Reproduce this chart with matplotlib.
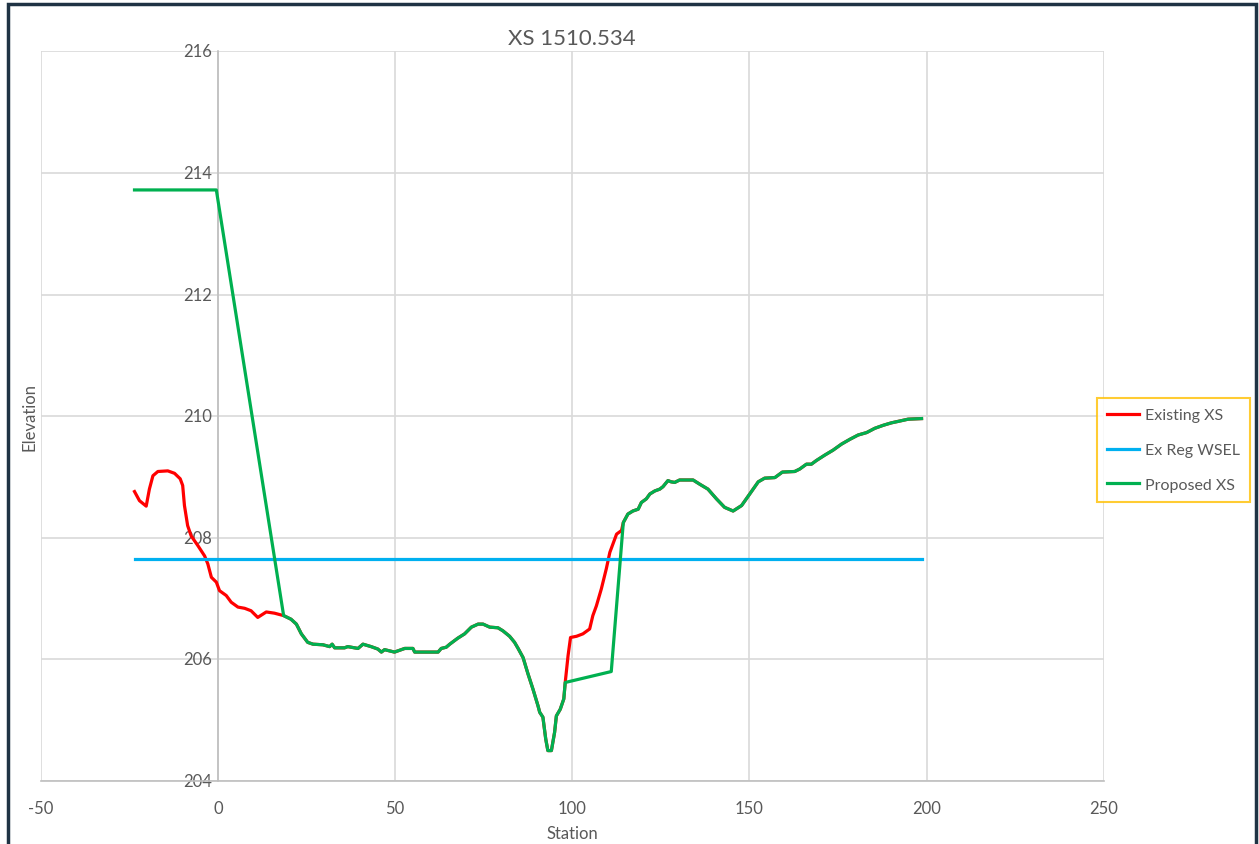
import matplotlib
matplotlib.use("Agg")
import matplotlib.pyplot as plt
from matplotlib.patches import Rectangle

plt.rcParams["font.family"] = ["Lato", "DejaVu Sans"]
plt.rcParams["axes.unicode_minus"] = False

# ---- data ----
# left bank of the existing section (hidden under the proposed fill)
left_bank_sta = [-23.6, -22.2, -20.3, -19.4, -18.4, -17.0, -14.2, -12.3, -10.7, -10.0, -9.5, -8.6,
                 -7.6, -5.7, -3.8, -2.9, -1.9, -0.5, 0.4, 2.3, 3.7, 5.6, 7.5, 9.3, 11.2, 13.6, 15.9]
left_bank_elev = [208.76, 208.61, 208.52, 208.80, 209.02, 209.09, 209.10, 209.06, 208.97, 208.86, 208.53, 208.20,
                  208.03, 207.87, 207.70, 207.57, 207.35, 207.27, 207.13, 207.05, 206.94, 206.86, 206.84, 206.80,
                  206.69, 206.78, 206.76]

# channel shared by both sections
channel_sta = [18.5, 20.6, 22.1, 23.5, 25.3, 26.8, 29.6, 31.5, 32.2, 32.9, 35.7, 36.6, 39.5, 40.9, 43.2,
               45.1, 46.1, 47.0, 49.8, 52.7, 55.0, 55.5, 62.1, 63.0, 64.4, 65.4, 67.7, 69.6, 71.5, 73.4,
               74.8, 76.7, 79.0, 80.4, 82.3, 83.7, 84.7, 86.1, 87.5, 88.9, 90.3, 90.8, 91.7, 92.5, 93.1,
               94.1, 95.0, 95.5, 96.6, 97.6, 98.0]
channel_elev = [206.72, 206.66, 206.58, 206.42, 206.28, 206.25, 206.24, 206.21, 206.25, 206.19, 206.19, 206.21,
                206.18, 206.25, 206.21, 206.17, 206.12, 206.16, 206.12, 206.18, 206.18, 206.12, 206.12, 206.18,
                206.20, 206.25, 206.35, 206.42, 206.53, 206.58, 206.58, 206.53, 206.52, 206.47, 206.38, 206.28,
                206.18, 206.03, 205.76, 205.51, 205.24, 205.13, 205.05, 204.69, 204.50, 204.50, 204.80, 205.07,
                205.18, 205.35, 205.62]

# right bank of the existing section
right_bank_sta = [98.8, 99.5, 101.2, 103.0, 104.9, 105.8, 106.8, 108.2, 109.6, 110.6, 112.5, 113.9, 114.4]
right_bank_elev = [206.06, 206.36, 206.38, 206.42, 206.50, 206.72, 206.88, 207.16, 207.49, 207.76, 208.06,
                   208.12, 208.25]

# overbank shared by both sections
overbank_sta = [115.7, 117.1, 118.6, 119.5, 120.9, 121.9, 123.3, 124.7, 125.6, 127.0, 127.9, 128.9, 130.3,
                134.1, 136.0, 138.3, 140.7, 143.0, 145.4, 147.8, 150.1, 152.5, 154.3, 157.2, 158.6, 159.3,
                162.8, 164.2, 166.1, 167.5, 168.9, 171.3, 173.6, 176.0, 178.4, 180.7, 183.1, 185.4, 187.8,
                190.1, 192.5, 194.8, 198.6]
overbank_elev = [208.39, 208.44, 208.47, 208.58, 208.64, 208.72, 208.77, 208.80, 208.84, 208.94, 208.92,
                 208.91, 208.95, 208.95, 208.88, 208.80, 208.64, 208.50, 208.44, 208.53, 208.72, 208.92,
                 208.98, 208.99, 209.05, 209.08, 209.09, 209.13, 209.21, 209.21, 209.27, 209.36, 209.44,
                 209.54, 209.62, 209.69, 209.73, 209.80, 209.85, 209.89, 209.92, 209.95, 209.96]

# proposed changes
prop_left_sta = [-23.6, -0.5]
prop_left_elev = [213.72, 213.72]
prop_right_sta = [111.0, 114.4]
prop_right_elev = [205.80, 208.25]

wsel_sta = [-23.6, 198.6]
wsel_elev = [207.65, 207.65]

existing_sta = left_bank_sta + channel_sta + right_bank_sta + overbank_sta
existing_elev = left_bank_elev + channel_elev + right_bank_elev + overbank_elev
proposed_sta = prop_left_sta + channel_sta + prop_right_sta + overbank_sta
proposed_elev = prop_left_elev + channel_elev + prop_right_elev + overbank_elev

x_ticks = [-50, 0, 50, 100, 150, 200, 250]
y_ticks = [204, 206, 208, 210, 212, 214, 216]

text_gray = "#595959"
grid_gray = "#d9d9d9"

fig = plt.figure(figsize=(12.59, 8.45), dpi=100)
ax = fig.add_axes([41 / 1259, 1 - 782 / 845, (1103.6 - 41) / 1259, (782 - 52.3) / 845])

ax.plot(existing_sta, existing_elev, color="#ff0000", lw=2.3, label="Existing XS", zorder=3)
ax.plot(wsel_sta, wsel_elev, color="#00b0f0", lw=2.3, label="Ex Reg WSEL", zorder=3)
ax.plot(proposed_sta, proposed_elev, color="#00b050", lw=2.3, label="Proposed XS", zorder=4)

ax.set_xlim(-50, 250)
ax.set_ylim(204, 216)
ax.set_xticks(x_ticks)
ax.set_yticks(y_ticks)
ax.grid(True, color=grid_gray, lw=1.2)
ax.set_axisbelow(True)

# vertical axis crosses at station 0, like the spreadsheet chart
for s in ["top", "right"]:
    ax.spines[s].set_visible(False)
ax.spines["left"].set_position(("data", 0))
ax.spines["left"].set_color("#bfbfbf")
ax.spines["bottom"].set_color("#bfbfbf")
ax.spines["left"].set_linewidth(1.2)
ax.spines["bottom"].set_linewidth(1.2)
ax.tick_params(axis="both", length=0, labelsize=12, labelcolor=text_gray)
ax.tick_params(axis="x", pad=14)
ax.tick_params(axis="y", pad=4)
for lbl in ax.get_yticklabels():
    lbl.set_verticalalignment("center")

ax.set_title("XS 1510.534", fontsize=16, color=text_gray, pad=5)
ax.set_xlabel("Station", fontsize=12, color=text_gray, labelpad=6)
fig.text(30 / 1259, 1 - 417 / 845, "Elevation", rotation=90, fontsize=12, color=text_gray,
         ha="center", va="center")

leg = ax.legend(loc="center left", bbox_to_anchor=(1097 / 1259, 1 - 451 / 845),
                bbox_transform=fig.transFigure, borderaxespad=0, frameon=True, fancybox=False,
                fontsize=11.5, handlelength=2.0, handletextpad=0.4, labelspacing=1.3,
                borderpad=0.6, labelcolor=text_gray)
leg.get_frame().set_edgecolor("#ffc000")
leg.get_frame().set_linewidth(1.5)

# dark outer frame of the chart object
fig.patches.append(Rectangle((8 / 1259, -0.02), (1256 - 8) / 1259, 1.02 - 5 / 845,
                             transform=fig.transFigure, fill=False, edgecolor="#1f3344", lw=2.5))

fig.savefig("out.png", dpi=100)
